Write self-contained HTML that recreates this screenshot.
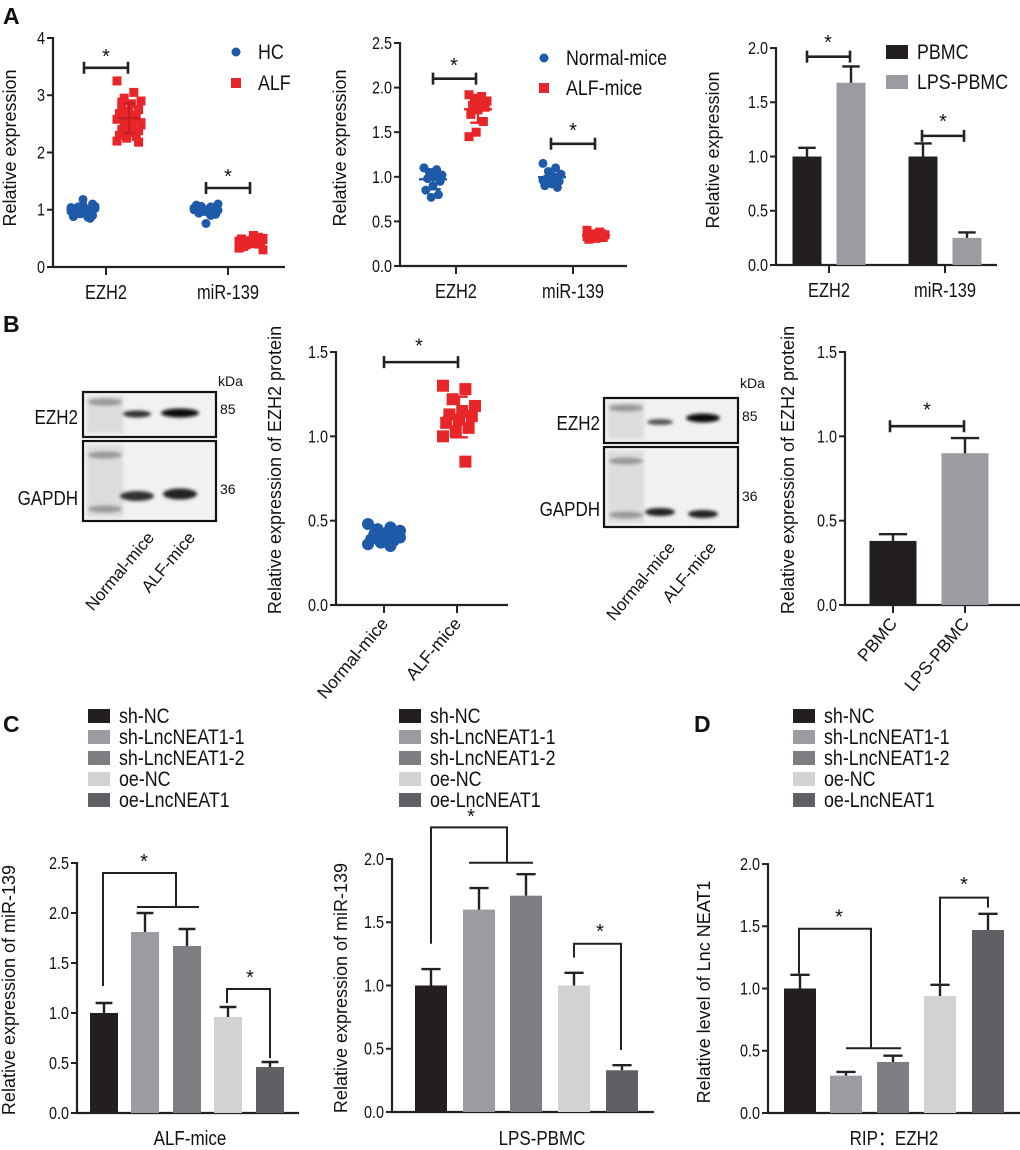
<!DOCTYPE html>
<html><head><meta charset="utf-8"><style>
html,body{margin:0;padding:0;background:#fff}
svg{display:block}
text{font-family:"Liberation Sans",Arial,sans-serif;fill:#111}
</style></head><body>
<svg id="fig" width="1020" height="1150" viewBox="0 0 1020 1150" xmlns="http://www.w3.org/2000/svg">
<defs><filter id="blur" x="-20%" y="-50%" width="140%" height="200%"><feGaussianBlur stdDeviation="1.6"/></filter></defs>
<text x="3" y="24" font-size="23" font-weight="bold">A</text>
<text x="3" y="332" font-size="23" font-weight="bold">B</text>
<text x="3" y="732" font-size="23" font-weight="bold">C</text>
<text x="694" y="732" font-size="23" font-weight="bold">D</text>
</svg>
<script>
// ---------- data ----------
const a1Categories=["EZH2","miR-139"];
const a2Categories=["EZH2","miR-139"];
const a1HcEzh2=[1.0,0.95,1.05,1.02,0.98,0.92,1.1,1.18,0.88,0.85,1.03,0.97,1.0,0.94,1.06,1.01,0.99,0.9,1.08,0.96,1.02,0.93,1.04,0.87,1.0];
const a1AlfEzh2=[3.25,3.05,2.95,2.9,2.85,2.8,2.75,2.7,2.68,2.65,2.6,2.58,2.55,2.5,2.48,2.45,2.4,2.38,2.35,2.3,2.28,2.25,2.2,2.62,2.72,2.52,2.42,2.88,2.18,2.66];
const a1HcMir=[1.0,1.05,0.98,1.1,0.95,1.02,0.92,0.76,1.08,1.0,0.97,1.03,0.9,1.06,0.99,1.01,0.94];
const a1AlfMir=[0.45,0.42,0.4,0.48,0.5,0.38,0.44,0.46,0.35,0.52,0.41,0.43,0.47,0.39,0.3,0.55,0.36,0.44,0.42,0.49,0.4,0.45,0.33,0.46,0.43,0.5,0.41,0.38];
const a2NormEzh2=[1.1,1.08,1.05,1.02,1.0,0.98,0.95,0.9,0.85,0.8,0.77,1.1,1.03];
const a2AlfEzh2=[1.92,1.9,1.88,1.85,1.82,1.8,1.78,1.75,1.7,1.62,1.5,1.45,1.86];
const a2NormMir=[1.15,1.1,1.06,1.03,1.0,0.98,0.95,0.92,0.9,0.88,1.02,0.96];
const a2AlfMir=[0.4,0.38,0.36,0.35,0.34,0.33,0.32,0.31,0.3,0.36,0.34,0.33];
const a3Categories=["EZH2","miR-139"];
const a3Pbmc=[1.0,1.0];
const a3PbmcErr=[0.08,0.12];
const a3Lps=[1.68,0.25];
const a3LpsErr=[0.15,0.05];
const b2Categories=["Normal-mice","ALF-mice"];
const b2Normal=[0.48,0.46,0.45,0.44,0.43,0.42,0.41,0.4,0.39,0.38,0.37,0.36,0.35,0.42,0.4];
const b2Alf=[1.3,1.28,1.22,1.18,1.15,1.13,1.12,1.1,1.08,1.05,1.03,1.0,0.85];
const b4Categories=["PBMC","LPS-PBMC"];
const b4Values=[0.38,0.9];
const b4Err=[0.04,0.09];
const cGroups=["sh-NC","sh-LncNEAT1-1","sh-LncNEAT1-2","oe-NC","oe-LncNEAT1"];
const c1Values=[1.0,1.81,1.67,0.96,0.46];
const c1Err=[0.1,0.19,0.17,0.1,0.05];
const c2Values=[1.0,1.6,1.71,1.0,0.33];
const c2Err=[0.13,0.17,0.17,0.1,0.04];
const dValues=[1.0,0.3,0.41,0.94,1.47];
const dErr=[0.11,0.03,0.05,0.09,0.13];
const a1Ticks=["0","1","2","3","4"];
const a2Ticks=["0.0","0.5","1.0","1.5","2.0","2.5"];
const a3Ticks=["0.0","0.5","1.0","1.5","2.0"];
const bTicks=["0.0","0.5","1.0","1.5"];
const c1Ticks=["0.0","0.5","1.0","1.5","2.0","2.5"];
const c2Ticks=["0.0","0.5","1.0","1.5","2.0"];
const dTicks=["0.0","0.5","1.0","1.5","2.0"];

const barColors=["#231f20","#9a9ca1","#7d7e82","#d1d2d4","#5f6064"];
const BLUE="#1f5aa8",RED="#e8262a",INK="#222";
const svg=document.getElementById('fig');
const NS="http://www.w3.org/2000/svg";
function mk(tag,attrs,parent){const e=document.createElementNS(NS,tag);for(const k in attrs)e.setAttribute(k,attrs[k]);(parent||svg).appendChild(e);return e;}
function txt(s,attrs,parent){const e=mk('text',attrs,parent);e.textContent=s;return e;}
function scale(v0px,v1px,max){return v=>v0px-(v0px-v1px)*v/max;}

function axes(g,x0,xEnd,y0,yTop,ticks,max,catX,cats,ylabel,ylx,yly){
  const ys=scale(y0,yTop,max);
  let l=mk('line',{x1:x0,y1:y0,x2:x0,y2:yTop-1,stroke:INK,'stroke-width':2.2},g);
  
  
  l=mk('line',{x1:x0-1,y1:y0,x2:xEnd,y2:y0,stroke:INK,'stroke-width':2.2},g);
  
  
  ticks.forEach((t,i)=>{const v=max*i/(ticks.length-1);const y=ys(v);
    const tk=mk('line',{x1:x0-6,y1:y,x2:x0,y2:y,stroke:INK,'stroke-width':2},g);
    
    
    const tl=txt(t,{x:x0-8,y:y+6,'font-size':18,'text-anchor':'end',transform:`translate(${x0-8},0) scale(0.8,1) translate(${-(x0-8)},0)`},g);
    
    
  });
  catX.forEach((x,i)=>{const tk=mk('line',{x1:x,y1:y0,x2:x,y2:y0+8,stroke:INK,'stroke-width':2},g);
    
    
    if(cats){const tl=txt(cats[i],{x:x,y:y0+32,'font-size':20,'text-anchor':'middle',transform:`translate(${x},0) scale(0.82,1) translate(${-x},0)`},g);
      
      }
  });
  const yl=txt(ylabel,{x:0,y:0,'font-size':18,'text-anchor':'middle',transform:`translate(${ylx},${yly}) rotate(-90)`},g);
  
  
  return ys;
}
function star(g,x,y){const s=txt('*',{x:x,y:y+2,'font-size':20,'text-anchor':'middle'},g);
  
  }
function capBar(g,x1,x2,y){const p=mk('path',{d:`M${x1},${y-6}V${y+6}M${x1},${y}H${x2}M${x2},${y-6}V${y+6}`,stroke:INK,'stroke-width':2.6,fill:'none'},g);
  
  }
function scatter(g,vals,cx,ys,color,shape,spread,r){
  vals.forEach((v,i)=>{const dx=((i*7)%11-5)/5*spread;const y=ys(v);let m;
    if(shape==='c')m=mk('circle',{cx:cx+dx,cy:y,r:r,fill:color},g);
    else m=mk('rect',{x:cx+dx-r,y:y-r,width:2*r,height:2*r,fill:color},g);
    
    });
}
function meanSd(g,vals,cx,ys,color,w){
  const m=vals.reduce((a,b)=>a+b,0)/vals.length;
  const sd=Math.sqrt(vals.reduce((a,b)=>a+(b-m)*(b-m),0)/(vals.length-1));
  const p=mk('path',{d:`M${cx-w},${ys(m)}H${cx+w}M${cx},${ys(m-sd)}V${ys(m+sd)}M${cx-w*0.55},${ys(m+sd)}H${cx+w*0.55}M${cx-w*0.55},${ys(m-sd)}H${cx+w*0.55}`,stroke:color,'stroke-width':2.4,fill:'none'},g);
  
  
}
function bar(g,cx,w,v,e,ys,color,name){
  const y=ys(v),y0=ys(0);
  const r=mk('rect',{x:cx-w/2,y:y,width:w,height:y0-y,fill:color},g);
  
  
  const p=mk('path',{d:`M${cx},${y}V${ys(v+e)}M${cx-w*0.3},${ys(v+e)}H${cx+w*0.3}`,stroke:INK,'stroke-width':2.4,fill:'none'},g);
  
  
}
function legendItem(g,x,y,label,color,kind,fs){
  let m;
  if(kind==='c')m=mk('circle',{cx:x,cy:y,r:4.5,fill:color},g);
  else if(kind==='r')m=mk('rect',{x:x-5,y:y-5,width:10,height:10,fill:color},g);
  else m=mk('rect',{x:x,y:y-7,width:kind,height:14,fill:color},g);
  
  
  const lx=(typeof kind==='number'?x+kind+9:x+22);
  const t=txt(label,{x:lx,y:y+7,'font-size':fs||21,transform:`translate(${lx},0) scale(0.85,1) translate(${-lx},0)`},g);
  
  
}
function group(name){const g=mk('g',{});return g;}

// ---------- A1 ----------
(function(){const g=group('chart-a1-human-scatter');
  const tx=[106,228];
  const ys=axes(g,53,285,267,38,a1Ticks,4,tx,a1Categories,'Relative expression',16,148);
  scatter(g,a1HcEzh2,tx[0]-23,ys,BLUE,'c',12,4.5);
  scatter(g,a1AlfEzh2,tx[0]+23,ys,RED,'r',12,4.5);
  scatter(g,a1HcMir,tx[1]-22,ys,BLUE,'c',12,4.5);
  scatter(g,a1AlfMir,tx[1]+23,ys,RED,'r',12,4.5);
  meanSd(g,a1AlfEzh2,tx[0]+23,ys,'#c81e22',11);
  capBar(g,84,128,ys(3.48));star(g,106,ys(3.6));
  capBar(g,206,250,ys(1.38));star(g,228,ys(1.5));
  legendItem(g,236,52,'HC',BLUE,'c');
  legendItem(g,236,83,'ALF',RED,'r');
})();
// ---------- A2 ----------
(function(){const g=group('chart-a2-mice-scatter');
  const tx=[456,573];
  const ys=axes(g,400,627,266,43,a2Ticks,2.5,tx,a2Categories,'Relative expression',346,148);
  scatter(g,a2NormEzh2,433,ys,BLUE,'c',9,4.5);
  scatter(g,a2AlfEzh2,478,ys,RED,'r',9,4.5);
  scatter(g,a2NormMir,552,ys,BLUE,'c',9,4.5);
  scatter(g,a2AlfMir,596,ys,RED,'r',9,4.5);
  meanSd(g,a2NormEzh2,433,ys,BLUE,14);meanSd(g,a2AlfEzh2,478,ys,RED,14);
  meanSd(g,a2NormMir,552,ys,BLUE,14);meanSd(g,a2AlfMir,596,ys,RED,14);
  capBar(g,433,476,ys(2.1));star(g,454,ys(2.2));
  capBar(g,551,595,ys(1.37));star(g,573,ys(1.47));
  legendItem(g,544,58,'Normal-mice',BLUE,'c');
  legendItem(g,544,88,'ALF-mice',RED,'r');
})();
// ---------- A3 ----------
(function(){const g=group('chart-a3-pbmc-bars');
  const tx=[829,945];
  const ys=axes(g,776,997,265,48,a3Ticks,2.0,tx,a3Categories,'Relative expression',719,150);
  a3Categories.forEach((c,i)=>{bar(g,tx[i]-22,29,a3Pbmc[i],a3PbmcErr[i],ys,barColors[0],'bar-pbmc-'+i);
    bar(g,tx[i]+22,29,a3Lps[i],a3LpsErr[i],ys,barColors[1],'bar-lps-pbmc-'+i);});
  capBar(g,807,850,ys(1.92));star(g,828,ys(2.01));
  capBar(g,922,964,ys(1.19));star(g,943,ys(1.28));
  legendItem(g,886,52,'PBMC',barColors[0],22);
  legendItem(g,886,82,'LPS-PBMC',barColors[1],22);
})();
// ---------- Western blots ----------
function blot(name,x1,x2,e1,e2,g1,g2,ezBands,gaBands,labelX,ezY,gaY,kx,ky,k85,k36,rotY){
  const g=group(name);
  [[e1,e2],[g1,g2]].forEach(([t,b],k)=>{
    const r=mk('rect',{x:x1,y:t,width:x2-x1,height:b-t,fill:'#f1f1f1',stroke:'#111','stroke-width':2.2},g);
    
    
    const ld=mk('rect',{x:x1+4,y:t+4,width:36,height:b-t-8,fill:'#dcdcdc',filter:'url(#blur)'},g);
    
    
  });
  const lad=[[e1+10],[g1+14,g2-12]];
  lad.flat().forEach(y=>{const b=mk('ellipse',{cx:x1+22,cy:y,rx:17,ry:3.5,fill:'#999',filter:'url(#blur)'},g);
    
    });
  ezBands.concat(gaBands).forEach(b=>{const e=mk('ellipse',{cx:b[0],cy:b[1],rx:b[2],ry:b[3],fill:b[4],filter:'url(#blur)'},g);
    
    });
  let t=txt('EZH2',{x:labelX,y:ezY,'font-size':20,'text-anchor':'end',transform:`translate(${labelX},0) scale(0.85,1) translate(${-labelX},0)`},g);
  
  
  t=txt('GAPDH',{x:labelX,y:gaY,'font-size':20,'text-anchor':'end',transform:`translate(${labelX},0) scale(0.85,1) translate(${-labelX},0)`},g);
  
  
  t=txt('kDa',{x:kx,y:ky,'font-size':14},g);
  
  
  t=txt('85',{x:kx+2,y:k85,'font-size':14},g);
  
  
  t=txt('36',{x:kx+2,y:k36,'font-size':14},g);
  
  
  [['Normal-mice',x1+72],['ALF-mice',x1+113]].forEach(([s,x])=>{
    const l=txt(s,{x:0,y:0,'font-size':17,'text-anchor':'end',transform:`translate(${x},${rotY}) rotate(-50)`},g);
    
    });
}
blot('western-blot-mice',83,216,392,437,441,521,
 [[137,414,14,3.5,'#333'],[180,413,19,4.5,'#111']],[[137,496,17,5,'#333'],[180,494,17,5.5,'#222']],
 78,424,505,218,386,414,494,538);
blot('western-blot-pbmc',604,738,398,443,447,527,
 [[660,422,13,3,'#555'],[703,418,17,4.5,'#111']],[[660,512,15,4,'#222'],[703,514,15,4,'#222']],
 600,430,516,740,388,421,501,548);

// ---------- B2 ----------
(function(){const g=group('chart-b2-ezh2-protein-scatter');
  const tx=[384,457];
  const ys=axes(g,336,508,605,352,bTicks,1.5,tx,null,'Relative expression of EZH2 protein',281,470);
  scatter(g,b2Normal,384,ys,BLUE,'c',16,6);
  scatter(g,b2Alf,459,ys,RED,'r',16,6);
  meanSd(g,b2Normal,384,ys,BLUE,16);meanSd(g,b2Alf,459,ys,RED,16);
  capBar(g,384,458,ys(1.44));star(g,419,ys(1.51));
  b2Categories.forEach((c,i)=>{const l=txt(c,{x:0,y:0,'font-size':17.5,'text-anchor':'end',transform:`translate(${tx[i]+5},${624}) rotate(-50)`},g);
    
    });
})();
// ---------- B4 ----------
(function(){const g=group('chart-b4-ezh2-protein-bars');
  const tx=[893,965];
  const ys=axes(g,845,1020,605,352,bTicks,1.5,tx,null,'Relative expression of EZH2 protein',794,470);
  b4Values.forEach((v,i)=>bar(g,tx[i],47,v,b4Err[i],ys,barColors[i],'bar-'+b4Categories[i].toLowerCase()));
  capBar(g,890,964,ys(1.06));star(g,927,ys(1.13));
  b4Categories.forEach((c,i)=>{const l=txt(c,{x:0,y:0,'font-size':17.5,'text-anchor':'end',transform:`translate(${tx[i]+5},${624}) rotate(-50)`},g);
    
    });
})();
// ---------- C / D ----------
function legend5(name,x){const g=group(name);
  cGroups.forEach((c,i)=>legendItem(g,x,716+i*21,c,barColors[i],22,21));}
legend5('legend-c1',88);legend5('legend-c2',399);legend5('legend-d',793);
function bracket(g,d){const p=mk('path',{d:d,stroke:INK,'stroke-width':2,fill:'none'},g);
  
  }
function barGroup(name,x0,xEnd,y0,yTop,ticks,max,centers,w,vals,errs,ylabel,ylx,yly,xlabel,xlx){
  const g=group(name);
  const ys=axes(g,x0,xEnd,y0,yTop,ticks,max,[],null,ylabel,ylx,yly);
  vals.forEach((v,i)=>bar(g,centers[i],w,v,errs[i],ys,barColors[i],'bar-'+cGroups[i].toLowerCase()));
  const t=txt(xlabel,{x:xlx,y:1145,'font-size':20,'text-anchor':'middle',transform:`translate(${xlx},0) scale(0.85,1) translate(${-xlx},0)`},g);
  
  
  return [g,ys];
}
(function(){const [g,ys]=barGroup('chart-c1-alf-mice',77,299,1113,863,c1Ticks,2.5,[104,145,187,228,270],28,c1Values,c1Err,'Relative expression of miR-139',15,990,'ALF-mice',190);
  bracket(g,`M103,${ys(1.27)}V${ys(2.4)}H176V${ys(2.06)}M137,${ys(2.06)}H199`);star(g,144,ys(2.47));
  bracket(g,`M227,${ys(1.1)}V${ys(1.24)}H270V${ys(0.55)}`);star(g,250,ys(1.31));
})();
(function(){const [g,ys]=barGroup('chart-c2-lps-pbmc',392,654,1112,859,c2Ticks,2.0,[431,479,526,574,622],32,c2Values,c2Err,'Relative expression of miR-139',347,988,'LPS-PBMC',542);
  bracket(g,`M431,${ys(1.33)}V${ys(2.25)}H507V${ys(1.97)}M469,${ys(1.97)}H533`);star(g,471,ys(2.3));
  bracket(g,`M574,${ys(1.22)}V${ys(1.33)}H621V${ys(0.49)}`);star(g,600,ys(1.39));
})();
(function(){const [g,ys]=barGroup('chart-d-rip-ezh2',768,1020,1113,864,dTicks,2.0,[800,846,893,940,988],32,dValues,dErr,'Relative level of Lnc NEAT1',710,992,'RIP：EZH2',894);
  bracket(g,`M799,${ys(1.12)}V${ys(1.48)}H871V${ys(0.52)}M846,${ys(0.52)}H901`);star(g,839,ys(1.54));
  bracket(g,`M940,${ys(1.04)}V${ys(1.73)}H988V${ys(1.65)}`);star(g,964,ys(1.8));
})();
</script>
</body></html>
